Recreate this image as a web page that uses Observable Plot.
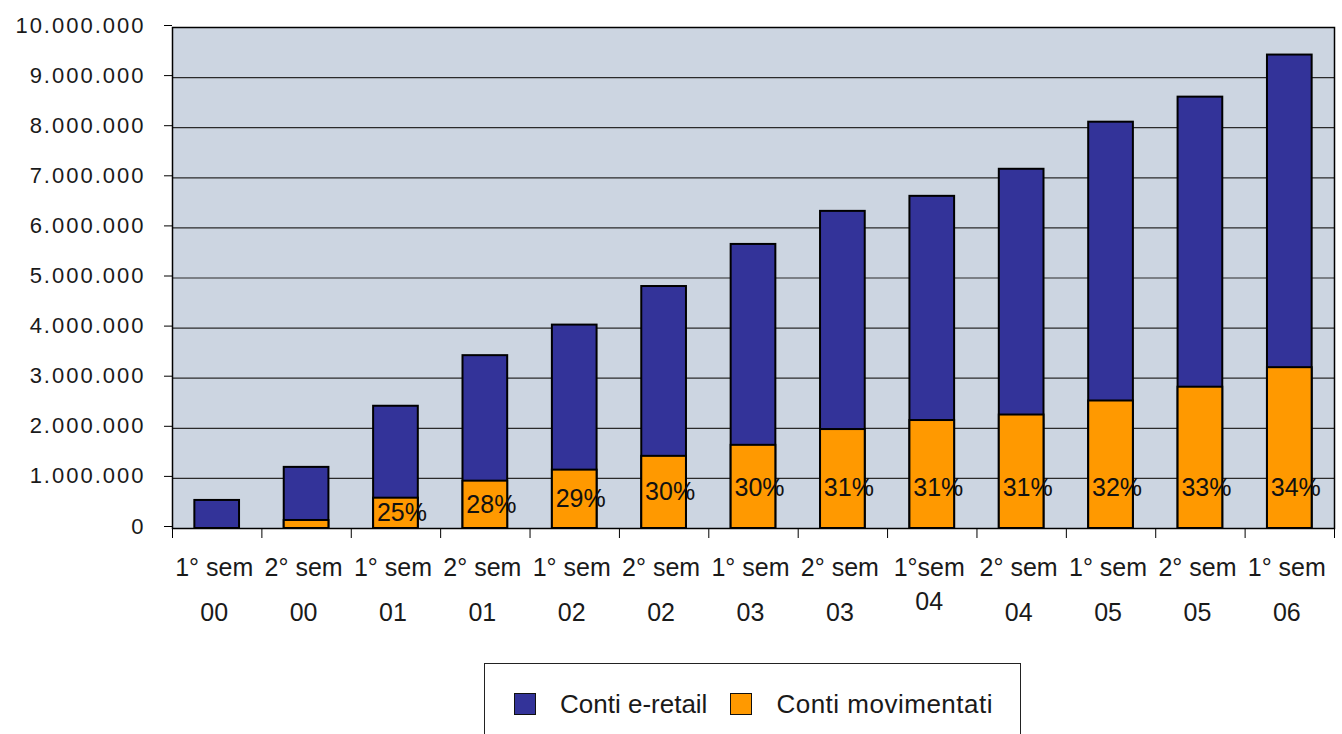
<!DOCTYPE html>
<html>
<head>
<meta charset="utf-8">
<script src="https://cdn.jsdelivr.net/npm/d3@7"></script>
<script src="https://cdn.jsdelivr.net/npm/@observablehq/plot@0.6"></script>
<style>
  body { margin: 0; background: #fff; font-family: "Liberation Sans", Arial, sans-serif; color: #1a1a1a; }
  #wrap { position: relative; width: 1342px; height: 734px; overflow: hidden; }
  #legend {
    position: absolute; left: 484px; top: 663px; width: 537px; height: 90px;
    border: 1.5px solid #222; box-sizing: border-box;
    display: flex; align-items: flex-start; padding: 25px 0 0 29px; font-size: 26px;
  }
  #legend .sw { width: 22px; height: 22px; border: 1.5px solid #111; box-sizing: border-box; margin-top: 4px; }
  #legend .lab { margin-left: 24px; margin-right: 23px; line-height: 30px; }
  #legend .lab:last-child { letter-spacing: 0.5px; }
</style>
</head>
<body>
<div id="wrap">
  <div id="chart"></div>
  <div id="legend"></div>
</div>
<script>
// Semesters (first line / second line of each category label)
const semestri = ["1° sem", "2° sem", "1° sem", "2° sem", "1° sem", "2° sem", "1° sem",
                  "2° sem", "1°sem", "2° sem", "1° sem", "2° sem", "1° sem"];
const anni = ["00", "00", "01", "01", "02", "02", "03", "03", "04", "04", "05", "05", "06"];

// Total e-retail accounts and active accounts per semester
const contiERetail = [560000, 1220000, 2440000, 3450000, 4060000, 4830000, 5670000,
                      6330000, 6630000, 7170000, 8110000, 8610000, 9450000];
const contiMovimentati = [0, 160000, 605000, 945000, 1165000, 1440000, 1660000,
                          1975000, 2155000, 2265000, 2545000, 2820000, 3210000];
// Share of active accounts shown on the bars
const quote = [null, null, "25%", "28%", "29%", "30%", "30%", "31%", "31%", "31%", "32%", "33%", "34%"];

const yTicks = [0, 1000000, 2000000, 3000000, 4000000, 5000000, 6000000, 7000000, 8000000, 9000000, 10000000];

const serie = [
  { name: "Conti e-retail", color: "#333399" },
  { name: "Conti movimentati", color: "#FF9900" }
];

const keys = semestri.map((s, i) => `${i}`);
const data = keys.map((k, i) => ({
  key: k, sem: semestri[i], anno: anni[i],
  eretail: contiERetail[i], mov: contiMovimentati[i], pct: quote[i]
}));
const labelOf = Object.fromEntries(data.map(d => [d.key, d]));

const W = 1342, mL = 172, mR = 8;
const step = (W - mL - mR) / keys.length;
const fmtIt = v => d3.format(",")(v).replace(/,/g, ".");
const special = data.filter(d => d.sem === "1°sem").map(d => d.key);

const chart = Plot.plot({
  width: W, height: 660,
  marginLeft: mL, marginRight: mR, marginTop: 27, marginBottom: 132,
  style: { fontFamily: "Liberation Sans, Arial, sans-serif", color: "#1a1a1a", background: "transparent", overflow: "visible" },
  x: { type: "band", domain: keys, paddingInner: 0.5, paddingOuter: 0.25, round: false, axis: null, label: null },
  y: { domain: [0, 10000000], axis: null, label: null },
  marks: [
    Plot.frame({ fill: "#CCD5E1" }),
    Plot.gridY({ ticks: yTicks, stroke: "#2a2a2a", strokeOpacity: 1, strokeWidth: 1.2 }),
    Plot.barY(data, { x: "key", y: "eretail", fill: serie[0].color, stroke: "#000", strokeWidth: 2 }),
    Plot.barY(data.filter(d => d.mov > 0), { x: "key", y: "mov", fill: serie[1].color, stroke: "#000", strokeWidth: 2 }),
    Plot.text(data.filter(d => d.pct), {
      x: "key", y: d => Math.min(d.mov / 2, 800000), text: "pct",
      dx: 6, fontSize: 25, fill: "#111"
    }),
    Plot.axisY({ ticks: yTicks, tickFormat: fmtIt, tickSize: 8, tickPadding: 19, fontSize: 22, dy: -2, stroke: "#000", label: null }),
    // category boundary ticks
    Plot.axisX({ tickSize: 10, tickFormat: () => "", dx: -step / 2, stroke: "#000", label: null }),
    Plot.axisX({ ticks: [keys[keys.length - 1]], tickSize: 10, tickFormat: () => "", dx: step / 2, stroke: "#000", label: null }),
    // two-line category labels
    Plot.axisX({ tickSize: 0, tickPadding: 30, fontSize: 25, dx: -3, tickFormat: k => labelOf[k].sem, label: null }),
    Plot.axisX({ ticks: keys.filter(k => !special.includes(k)), tickSize: 0, tickPadding: 75, fontSize: 25, dx: -3, tickFormat: k => labelOf[k].anno, label: null }),
    Plot.axisX({ ticks: special, tickSize: 0, tickPadding: 64, fontSize: 25, dx: -3, tickFormat: k => labelOf[k].anno, label: null }),
    Plot.frame({ stroke: "#000", strokeWidth: 1.5 })
  ]
});

d3.select(chart).selectAll("g[aria-label='y-axis tick label'] text").style("letter-spacing", "2px");
document.getElementById("chart").appendChild(chart);

// legend
const legend = d3.select("#legend");
serie.forEach(s => {
  legend.append("div").attr("class", "sw").style("background", s.color);
  legend.append("div").attr("class", "lab").text(s.name);
});
</script>
</body>
</html>
